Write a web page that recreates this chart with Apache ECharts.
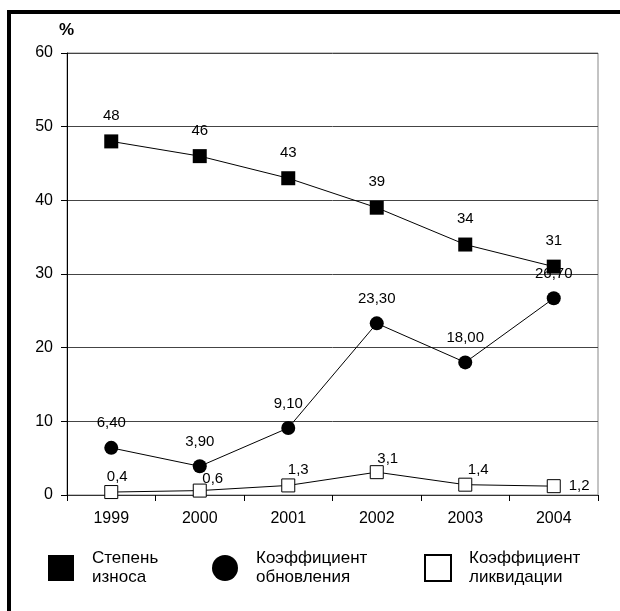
<!DOCTYPE html>
<html><head><meta charset="utf-8">
<script src="https://cdn.jsdelivr.net/npm/echarts@6/dist/echarts.min.js"></script>
<style>html,body{margin:0;padding:0;background:#fff}#c{width:620px;height:611px}</style>
</head><body><div id="c"></div>
<script>
const years = ['1999','2000','2001','2002','2003','2004'];
const wear = [48, 46, 43, 39, 34, 31];
const renewal = [6.4, 3.9, 9.1, 23.3, 18.0, 26.7];
const liquidation = [0.4, 0.6, 1.3, 3.1, 1.4, 1.2];
const seriesNames = ['Степень износа', 'Коэффициент обновления', 'Коэффициент ликвидации'];
const legendText = ['Степень\nизноса', 'Коэффициент\nобновления', 'Коэффициент\nликвидации'];

const fmt1 = v => v.toFixed(1).replace('.', ',');
const fmt2 = v => v.toFixed(2).replace('.', ',');
const liqLabel = [
  {offset: [6, 0]}, {offset: [13, 4]}, {offset: [10, 0]},
  {offset: [11, 2]}, {offset: [13, 1]}, {position: 'right', distance: 8}
];

const chart = echarts.init(document.getElementById('c'));
const font = 'Liberation Sans, Arial, sans-serif';
const icons = ['rect', 'circle', 'rect'];
const legendBase = (i, left) => ({
  data: [{name: seriesNames[i], icon: icons[i]}], left: left, top: 549, padding: 0,
  itemWidth: 26, itemHeight: 26, selectedMode: false,
  formatter: () => legendText[i],
  textStyle: {fontFamily: font, fontSize: 17, color: '#000', lineHeight: 19, padding: [0,0,0,13]}
});
chart.setOption({
  animation: false,
  backgroundColor: '#fff',
  grid: {left: 67, right: 22, top: 53, bottom: 116, show: true, borderColor: '#888', borderWidth: 1},
  graphic: [
    {type: 'rect', shape: {x: 7, y: 10, width: 4, height: 601}, style: {fill: '#000'}},
    {type: 'rect', shape: {x: 7, y: 10, width: 613, height: 4}, style: {fill: '#000'}},
    {type: 'text', left: 59, top: 22, style: {text: '%', font: 'bold 17px Liberation Sans, Arial', fill: '#000'}}
  ],
  xAxis: {
    type: 'category', data: years, boundaryGap: true,
    axisLine: {lineStyle: {color: '#333', width: 1}},
    axisTick: {show: true, length: 6, lineStyle: {color: '#000'}},
    axisLabel: {color: '#000', fontFamily: font, fontSize: 16, margin: 16}
  },
  yAxis: {
    type: 'value', min: 0, max: 60, interval: 10,
    axisLine: {show: true, lineStyle: {color: '#000'}},
    axisTick: {show: true, length: 6, lineStyle: {color: '#000'}},
    axisLabel: {color: '#000', fontFamily: font, fontSize: 16, margin: 14},
    splitLine: {lineStyle: {color: '#444', width: 1}}
  },
  legend: [legendBase(0, 48), legendBase(1, 212), legendBase(2, 424)],
  series: [
    {
      name: seriesNames[0], type: 'line', data: wear,
      symbol: 'rect', symbolSize: 14,
      lineStyle: {color: '#000', width: 1},
      itemStyle: {color: '#000'},
      label: {show: true, position: 'top', distance: 11, color: '#000', fontFamily: font, fontSize: 15}
    },
    {
      name: seriesNames[1], type: 'line', data: renewal,
      symbol: 'circle', symbolSize: 14,
      lineStyle: {color: '#000', width: 1},
      itemStyle: {color: '#000'},
      label: {show: true, position: 'top', distance: 10, color: '#000', fontFamily: font, fontSize: 15,
        formatter: p => fmt2(p.value)}
    },
    {
      name: seriesNames[2], type: 'line',
      data: liquidation.map((v, i) => ({value: v, label: liqLabel[i]})),
      symbol: 'rect', symbolSize: 13,
      lineStyle: {color: '#000', width: 1},
      itemStyle: {color: '#fff', borderColor: '#000', borderWidth: 1},
      label: {show: true, position: 'top', distance: 1, color: '#000', fontFamily: font, fontSize: 15,
        formatter: p => fmt1(p.value)}
    }
  ]
});
</script></body></html>
